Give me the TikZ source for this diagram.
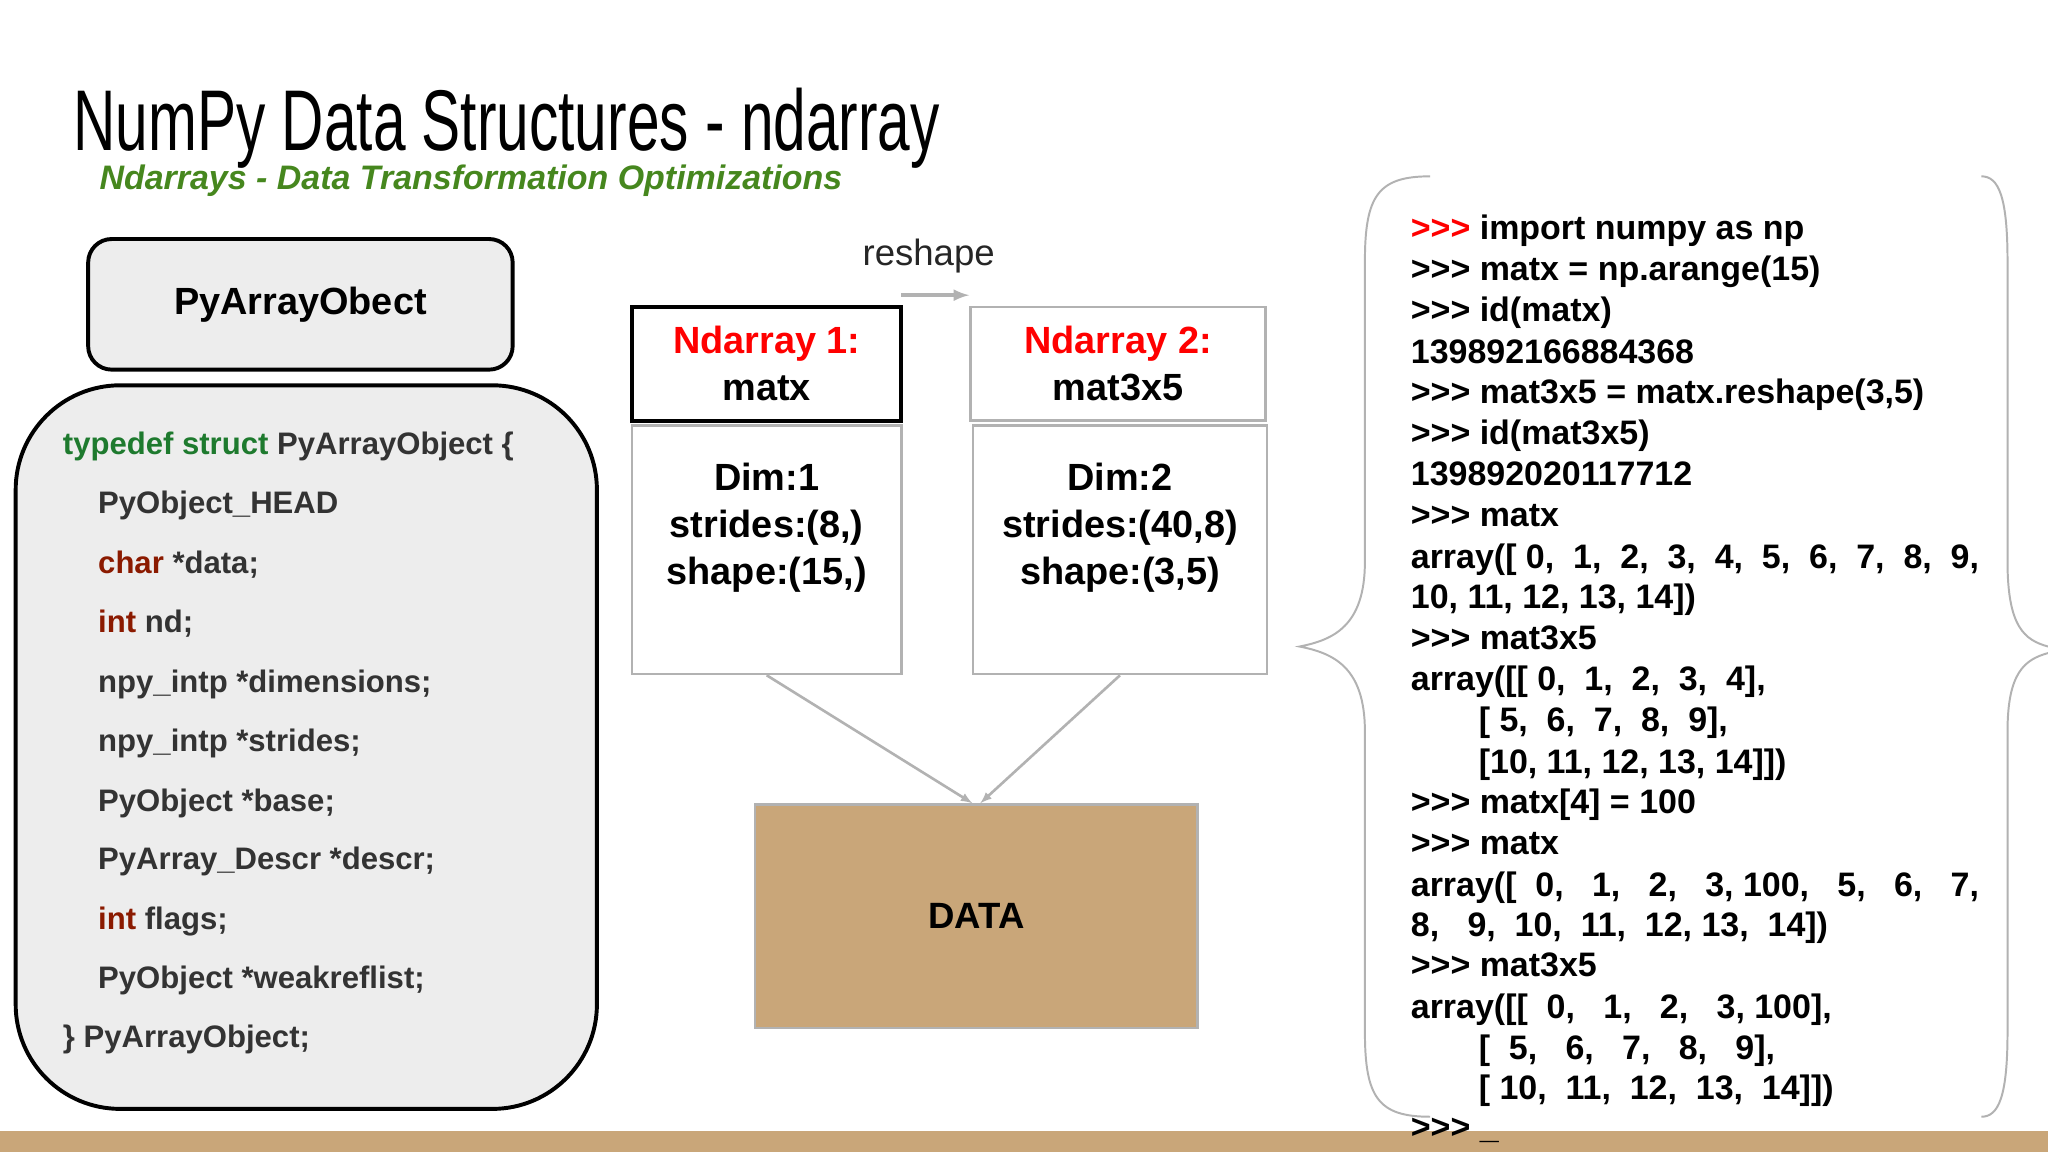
\documentclass[tikz,border=0pt]{standalone}
\usepackage{fontspec}
\setmainfont{Liberation Sans}
\newfontfamily\titlefont[FakeStretch=0.68]{Liberation Sans}
\newcommand{\ppp}{>\kern0pt>\kern0pt>}
\begin{document}
\begin{tikzpicture}[x=1pt,y=-1pt,
  code/.style={anchor=base west,inner sep=0pt,font=\fontsize{26}{26}\selectfont\bfseries},
  scode/.style={anchor=base west,inner sep=0pt,font=\fontsize{23.8}{23.8}\selectfont\bfseries,text=black!80},
  big/.style={align=center,font=\fontsize{29}{36}\selectfont\bfseries},
  graybox/.style={draw=black!30,line width=2pt},
  conn/.style={draw=black!30,line width=2pt,-latex}]
\definecolor{tan}{HTML}{C9A679}
\definecolor{kw}{HTML}{8B1A00}
\definecolor{gr}{HTML}{1E7A2E}
\useasboundingbox (0,0) rectangle (1568,882);
\fill[white] (0,0) rectangle (1568,882);
% title
\node[anchor=base west,inner sep=0pt,font=\titlefont\fontsize{66}{66}\selectfont] (title) at (56,115) {NumPy Data Structures - ndarray};
\node[anchor=base west,inner sep=0pt,font=\fontsize{26}{26}\selectfont\bfseries\itshape,text={rgb,255:red,70;green,135;blue,30}] (sub) at (76,145) {Ndarrays - Data Transformation Optimizations};
% PyArrayObect
\node[draw,line width=3pt,rounded corners=18pt,fill=black!7,minimum width=325pt,minimum height=100pt,font=\fontsize{29}{29}\selectfont\bfseries] (pao) at (230,233) {PyArrayObect};
\draw[line width=3pt,rounded corners=80pt,fill=black!7] (12,295) rectangle (457,849);
\node[scode] (l1) at (48,348) {\textcolor{gr}{typedef struct} PyArrayObject \{};
\node[scode] (l2) at (75,393) {PyObject\_HEAD};
\node[scode] (l3) at (75,439) {\textcolor{kw}{char} *data;};
\node[scode] (l4) at (75,484) {\textcolor{kw}{int} nd;};
\node[scode] (l5) at (75,530) {npy\_intp *dimensions;};
\node[scode] (l6) at (75,575) {npy\_intp *strides;};
\node[scode] (l7) at (75,621) {PyObject *base;};
\node[scode] (l8) at (75,666) {PyArray\_Descr *descr;};
\node[scode] (l9) at (75,712) {\textcolor{kw}{int} flags;};
\node[scode] (l10) at (75,757) {PyObject *weakreflist;};
\node[scode] (l11) at (48,802) {\} PyArrayObject;};
% ndarray boxes
\node[draw,line width=3pt,minimum width=206pt,minimum height=87pt,big] (n1) at (587,278.5) {\textcolor{red}{Ndarray 1:}\\matx};
\node[graybox,minimum width=226pt,minimum height=87pt,big] (n2) at (856,278.5) {\textcolor{red}{Ndarray 2:}\\mat3x5};
\node[graybox,minimum width=206pt,minimum height=190pt,big] (d1) at (587,421) {};
\node[big] at (587,404) {Dim:1\\strides:(8,)\\shape:(15,)};
\node[graybox,minimum width=225pt,minimum height=190pt,big] (d2) at (857.5,421) {};
\node[big] at (857.5,404) {Dim:2\\strides:(40,8)\\shape:(3,5)};
\node[font=\fontsize{28}{28}\selectfont,text=black!85] (rs) at (711,196) {reshape};
\coordinate (ra) at (690,226); \coordinate (rb) at (742,226);
\draw[conn,line width=3pt] (ra) -- (rb);
\node[graybox,fill=tan,minimum width=339pt,minimum height=171pt,font=\fontsize{28}{28}\selectfont\bfseries] (data) at (747.5,701.5) {DATA};
\draw[conn] (d1.south) -- ([xshift=-3pt]data.north);
\draw[conn] (d2.south) -- ([xshift=3pt]data.north);
% braces
\draw[black!30,line width=1.5pt] (1095,135) .. controls (1055,135) and (1045,150) .. (1045,200) -- (1045,430) .. controls (1045,480) and (1020,490) .. (995,495) .. controls (1020,500) and (1045,510) .. (1045,560) -- (1045,790) .. controls (1045,840) and (1055,855) .. (1095,855);
\draw[black!30,line width=1.5pt] (1517,135) .. controls (1530,135) and (1537,150) .. (1537,200) -- (1537,430) .. controls (1537,480) and (1550,490) .. (1568,495);
\draw[black!30,line width=1.5pt] (1568,500) .. controls (1550,505) and (1537,515) .. (1537,560) -- (1537,790) .. controls (1537,840) and (1530,855) .. (1517,855);
% bottom bar
\fill[tan] (0,866) rectangle (1568,882);
% code
\node[code] (c1) at (1080,183) {\textcolor{red}{\ppp} import numpy as np};
\node[code] (c2) at (1080,215) {\ppp{} matx = np.arange(15)};
\node[code] (c3) at (1080,246) {\ppp{} id(matx)};
\node[code] (c4) at (1080,278) {139892166884368};
\node[code] (c5) at (1080,309) {\ppp{} mat3x5 = matx.reshape(3,5)};
\node[code] (c6) at (1080,340) {\ppp{} id(mat3x5)};
\node[code] (c7) at (1080,372) {139892020117712};
\node[code] (c8) at (1080,403) {\ppp{} matx};
\node[code] (c9) at (1080,435) {array([ 0,\ \ 1,\ \ 2,\ \ 3,\ \ 4,\ \ 5,\ \ 6,\ \ 7,\ \ 8,\ \ 9,};
\node[code] (c10) at (1080,466) {10, 11, 12, 13, 14])};
\node[code] (c11) at (1080,497) {\ppp{} mat3x5};
\node[code] (c12) at (1080,529) {array([[ 0,\ \ 1,\ \ 2,\ \ 3,\ \ 4],};
\node[code] (c13) at (1132,560) {[ 5,\ \ 6,\ \ 7,\ \ 8,\ \ 9],};
\node[code] (c14) at (1132,592) {[10, 11, 12, 13, 14]])};
\node[code] (c15) at (1080,623) {\ppp{} matx[4] = 100};
\node[code] (c16) at (1080,654) {\ppp{} matx};
\node[code] (c17) at (1080,686) {array([\ \ 0,\ \ \ 1,\ \ \ 2,\ \ \ 3, 100,\ \ \ 5,\ \ \ 6,\ \ \ 7,};
\node[code] (c18) at (1080,717) {8,\ \ \ 9,\ \ 10,\ \ 11,\ \ 12, 13,\ \ 14])};
\node[code] (c19) at (1080,748) {\ppp{} mat3x5};
\node[code] (c20) at (1080,780) {array([[\ \ 0,\ \ \ 1,\ \ \ 2,\ \ \ 3, 100],};
\node[code] (c21) at (1132,811) {[\ \ 5,\ \ \ 6,\ \ \ 7,\ \ \ 8,\ \ \ 9],};
\node[code] (c22) at (1132,842) {[ 10,\ \ 11,\ \ 12,\ \ 13,\ \ 14]])};
\node[code] (c23) at (1080,872) {\ppp{} \_};
\end{tikzpicture}
\end{document}
